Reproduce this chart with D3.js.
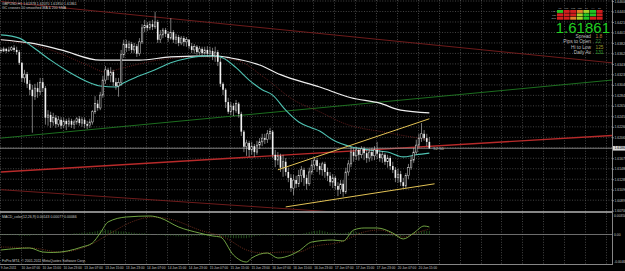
<!DOCTYPE html>
<html>
<head>
<meta charset="utf-8">
<script src="https://cdn.jsdelivr.net/npm/d3@7"></script>
<style>
  html, body { margin: 0; padding: 0; background: #000; }
  svg { display: block; }
  text { font-family: "Liberation Sans", Arial, sans-serif; }
</style>
</head>
<body>
<div id="chart"></div>
<script>
// GBPUSD H1, 9 Jun 23:00 .. 20 Jun 19:00 -- [open, high, low, close]
const bars = [
  [1.6369,1.6373,1.6363,1.6367],[1.6367,1.6375,1.6365,1.6371],[1.6371,1.6373,1.6363,1.6367],[1.6367,1.6375,1.6365,1.6369],
  [1.6369,1.6376,1.6367,1.6373],[1.6373,1.6378,1.6365,1.6369],[1.6369,1.6375,1.6360,1.6365],[1.6365,1.6369,1.6341,1.6345],
  [1.6345,1.6347,1.6309,1.6317],[1.6317,1.6332,1.6308,1.6324],[1.6324,1.6328,1.6298,1.6306],[1.6306,1.6313,1.6285,1.6295],
  [1.6295,1.6304,1.6215,1.6283],[1.6283,1.6306,1.6276,1.6298],[1.6298,1.6309,1.6280,1.6291],[1.6291,1.6317,1.6285,1.6309],
  [1.6309,1.6317,1.6291,1.6298],[1.6298,1.6302,1.6230,1.6243],[1.6243,1.6257,1.6228,1.6248],[1.6248,1.6254,1.6224,1.6235],
  [1.6235,1.6252,1.6228,1.6243],[1.6243,1.6248,1.6224,1.6231],[1.6231,1.6246,1.6226,1.6239],[1.6239,1.6244,1.6222,1.6228],
  [1.6228,1.6243,1.6224,1.6237],[1.6237,1.6241,1.6220,1.6231],[1.6231,1.6243,1.6226,1.6237],[1.6237,1.6241,1.6224,1.6230],
  [1.6230,1.6239,1.6222,1.6235],[1.6235,1.6244,1.6230,1.6241],[1.6241,1.6246,1.6228,1.6233],[1.6233,1.6244,1.6226,1.6239],
  [1.6239,1.6243,1.6224,1.6231],[1.6231,1.6237,1.6222,1.6228],[1.6228,1.6241,1.6224,1.6235],[1.6235,1.6257,1.6230,1.6254],
  [1.6254,1.6283,1.6250,1.6269],[1.6269,1.6276,1.6256,1.6261],[1.6261,1.6291,1.6257,1.6285],[1.6285,1.6321,1.6280,1.6313],
  [1.6313,1.6339,1.6306,1.6332],[1.6332,1.6336,1.6313,1.6321],[1.6321,1.6337,1.6309,1.6328],[1.6328,1.6332,1.6302,1.6309],
  [1.6309,1.6317,1.6295,1.6302],[1.6302,1.6317,1.6282,1.6308],[1.6308,1.6369,1.6302,1.6360],[1.6360,1.6388,1.6354,1.6380],
  [1.6380,1.6388,1.6365,1.6373],[1.6373,1.6386,1.6367,1.6380],[1.6380,1.6384,1.6363,1.6369],[1.6369,1.6382,1.6363,1.6376],
  [1.6376,1.6380,1.6356,1.6362],[1.6362,1.6391,1.6358,1.6384],[1.6384,1.6417,1.6380,1.6410],[1.6410,1.6425,1.6402,1.6415],
  [1.6415,1.6421,1.6404,1.6410],[1.6410,1.6423,1.6406,1.6417],[1.6417,1.6425,1.6406,1.6412],[1.6412,1.6440,1.6408,1.6421],
  [1.6421,1.6425,1.6382,1.6388],[1.6388,1.6406,1.6382,1.6397],[1.6397,1.6410,1.6391,1.6406],[1.6406,1.6410,1.6393,1.6399],
  [1.6399,1.6404,1.6384,1.6391],[1.6391,1.6428,1.6388,1.6402],[1.6402,1.6406,1.6382,1.6388],[1.6388,1.6399,1.6380,1.6393],
  [1.6393,1.6397,1.6376,1.6382],[1.6382,1.6395,1.6378,1.6391],[1.6391,1.6395,1.6376,1.6384],[1.6384,1.6393,1.6375,1.6388],
  [1.6388,1.6389,1.6371,1.6376],[1.6376,1.6382,1.6363,1.6369],[1.6369,1.6380,1.6362,1.6375],[1.6375,1.6378,1.6360,1.6365],
  [1.6365,1.6376,1.6360,1.6371],[1.6371,1.6375,1.6358,1.6363],[1.6363,1.6375,1.6360,1.6369],[1.6369,1.6376,1.6356,1.6362],
  [1.6362,1.6375,1.6358,1.6367],[1.6367,1.6373,1.6350,1.6358],[1.6358,1.6375,1.6347,1.6365],[1.6365,1.6369,1.6339,1.6347],
  [1.6347,1.6354,1.6300,1.6306],[1.6306,1.6309,1.6285,1.6295],[1.6295,1.6298,1.6261,1.6272],[1.6272,1.6280,1.6250,1.6254],
  [1.6254,1.6272,1.6248,1.6265],[1.6265,1.6270,1.6246,1.6257],[1.6257,1.6276,1.6252,1.6269],[1.6269,1.6272,1.6243,1.6250],
  [1.6250,1.6254,1.6209,1.6217],[1.6217,1.6220,1.6179,1.6189],[1.6189,1.6202,1.6172,1.6196],[1.6196,1.6200,1.6170,1.6183],
  [1.6183,1.6198,1.6174,1.6190],[1.6190,1.6194,1.6170,1.6179],[1.6179,1.6200,1.6174,1.6192],[1.6192,1.6205,1.6185,1.6198],
  [1.6198,1.6213,1.6190,1.6205],[1.6205,1.6213,1.6194,1.6202],[1.6202,1.6220,1.6196,1.6213],[1.6213,1.6224,1.6202,1.6217],
  [1.6217,1.6220,1.6168,1.6174],[1.6174,1.6183,1.6151,1.6164],[1.6164,1.6179,1.6155,1.6172],[1.6172,1.6176,1.6142,1.6150],
  [1.6150,1.6174,1.6133,1.6161],[1.6161,1.6168,1.6135,1.6142],[1.6142,1.6150,1.6123,1.6131],[1.6131,1.6138,1.6105,1.6112],
  [1.6112,1.6137,1.6099,1.6127],[1.6127,1.6135,1.6112,1.6120],[1.6120,1.6146,1.6114,1.6135],[1.6135,1.6153,1.6123,1.6146],
  [1.6146,1.6150,1.6116,1.6131],[1.6131,1.6137,1.6109,1.6120],[1.6120,1.6150,1.6116,1.6142],[1.6142,1.6164,1.6137,1.6155],
  [1.6155,1.6170,1.6146,1.6164],[1.6164,1.6168,1.6142,1.6153],[1.6153,1.6159,1.6137,1.6146],[1.6146,1.6161,1.6135,1.6157],
  [1.6157,1.6161,1.6131,1.6142],[1.6142,1.6150,1.6125,1.6135],[1.6135,1.6142,1.6116,1.6123],[1.6123,1.6138,1.6112,1.6131],
  [1.6131,1.6135,1.6109,1.6116],[1.6116,1.6123,1.6097,1.6109],[1.6109,1.6127,1.6101,1.6120],[1.6120,1.6127,1.6096,1.6105],
  [1.6105,1.6150,1.6101,1.6142],[1.6142,1.6164,1.6135,1.6157],[1.6157,1.6189,1.6151,1.6179],[1.6179,1.6187,1.6161,1.6172],
  [1.6172,1.6189,1.6164,1.6183],[1.6183,1.6187,1.6163,1.6174],[1.6174,1.6190,1.6168,1.6185],[1.6185,1.6189,1.6164,1.6177],
  [1.6177,1.6183,1.6159,1.6168],[1.6168,1.6185,1.6161,1.6179],[1.6179,1.6187,1.6163,1.6172],[1.6172,1.6190,1.6164,1.6183],
  [1.6183,1.6198,1.6166,1.6176],[1.6176,1.6183,1.6161,1.6168],[1.6168,1.6181,1.6159,1.6174],[1.6174,1.6177,1.6155,1.6161],
  [1.6161,1.6174,1.6150,1.6168],[1.6168,1.6172,1.6146,1.6153],[1.6153,1.6161,1.6140,1.6146],[1.6146,1.6151,1.6123,1.6131],
  [1.6131,1.6148,1.6122,1.6138],[1.6138,1.6144,1.6116,1.6123],[1.6123,1.6131,1.6112,1.6116],[1.6116,1.6140,1.6112,1.6135],
  [1.6135,1.6157,1.6129,1.6150],[1.6150,1.6172,1.6146,1.6164],[1.6164,1.6187,1.6159,1.6179],[1.6179,1.6202,1.6174,1.6192],
  [1.6192,1.6213,1.6187,1.6205],[1.6205,1.6233,1.6198,1.6213],[1.6213,1.6220,1.6200,1.6205],[1.6205,1.6213,1.6190,1.6198],
  [1.6198,1.6207,1.6185,1.61861]
];

// one label every 8 bars
const timeLabels = ["9 Jun 2011","10 Jun 07:00","10 Jun 15:00","10 Jun 23:00","13 Jun 07:00","13 Jun 15:00",
  "13 Jun 23:00","14 Jun 07:00","14 Jun 15:00","14 Jun 23:00","15 Jun 07:00","15 Jun 15:00","15 Jun 23:00",
  "16 Jun 07:00","16 Jun 15:00","16 Jun 23:00","17 Jun 07:00","17 Jun 15:00","17 Jun 23:00","20 Jun 07:00","20 Jun 15:00"];

const priceTicks = [1.64600,1.64405,1.64210,1.64015,1.63820,1.63625,1.63430,1.63235,1.63040,1.62845,1.62650,
  1.62455,1.62260,1.62065,1.61870,1.61675,1.61480,1.61285,1.61090,1.60895,1.60700];

// moving averages, read as [bar, price]
const maWhite = [[0,1.6388],[11,1.6382],[23,1.6369],[38,1.6350],[53,1.6350],[65,1.6356],[82,1.6358],[88,1.6354],
  [99,1.6341],[107,1.6323],[122,1.6300],[134,1.6280],[145,1.6270],[153,1.6257],[164,1.6252]];
const maCyan = [[0,1.6397],[7,1.6391],[12,1.6375],[19,1.6350],[26,1.6328],[34,1.6308],[38,1.6302],[44,1.6300],
  [47,1.6308],[52,1.6319],[59,1.6332],[65,1.6345],[72,1.6354],[78,1.6358],[82,1.6358],[85,1.6354],[90,1.6336],
  [95,1.6313],[100,1.6295],[104,1.6285],[109,1.6257],[114,1.6235],[119,1.6224],[122,1.6218],[127,1.6202],
  [134,1.6189],[141,1.6183],[148,1.6179],[154,1.6170],[159,1.6174],[164,1.6177]];
const maDotted = [[0,1.6388],[19,1.6369],[33,1.6341],[40,1.6328],[47,1.6336],[60,1.6350],[76,1.6356],[90,1.6350],
  [101,1.6317],[112,1.6276],[122,1.6254],[131,1.6233],[148,1.6215],[164,1.6202]];

// trend lines, [bar, price] end points
const trendTopRed = [[0,1.6459],[234,1.6345]];
const trendMidRed = [[0,1.6142],[234,1.6210]];
const trendLowRed = [[0,1.6109],[234,1.6033]];
const trendGreen = [[0,1.6205],[234,1.6313]];
const channelUpper = [[106,1.6146],[164,1.6241]];
const channelLower = [[109,1.6077],[166,1.6120]];

// MACD pane, [bar, value]
const macdMain = [[0,-0.00252],[11,-0.00220],[16,-0.00285],[20,-0.00293],[31,-0.00204],[35,-0.00138],[38,0.00024],
  [41,0.00204],[48,0.00285],[57,0.00301],[61,0.00269],[68,0.00122],[76,0.00024],[81,-0.00024],[84,-0.00041],
  [89,-0.00334],[94,-0.00448],[96,-0.00383],[102,-0.00301],[106,-0.00383],[111,-0.00334],[114,-0.00269],
  [119,-0.00122],[127,-0.00090],[131,-0.00106],[135,0.00073],[139,0.00106],[144,0.00106],[150,0.00024],
  [154,-0.00073],[158,0.00024],[162,0.00138],[164,0.00122]];
const macdSignal = [[0,-0.00204],[12,-0.00220],[23,-0.00285],[34,-0.00171],[42,0.00024],[50,0.00204],[58,0.00285],
  [66,0.00236],[76,0.00073],[86,-0.00057],[94,-0.00252],[100,-0.00301],[109,-0.00285],[114,-0.00285],
  [119,-0.00204],[130,-0.00122],[139,0.00041],[145,0.00073],[154,-0.00041],[160,0.00041],[164,0.00090]];
// histogram per bar, in 0.0001
const macdHist = [
  -1,-1,-1,-1,-1,-1,-1,-2,-2,-2, -2,-2,-1,-1,-1,-1,-1,-1,0,0,
  0,0,0,0,0,1,1,1,2,2, 2,3,3,3,4,4,5,6,7,7,
  8,7,7,6,6,5,5,5,4,4, 3,3,2,2,2,2,1,1,0,0,
  -1,-1,-1,-2,-2,-2,-2,-3,-3,-3, -3,-3,-3,-3,-2,-2,-2,-2,-2,-2,
  -1,-1,-1,-1,-2,-3,-4,-5,-5,-6, -6,-6,-6,-6,-6,-5,-4,-3,-2,-2,
  -1,-1,0,0,-1,-1,-2,-2,-2,-2, -2,-2,-2,-1,0,1,2,3,4,5,
  6,6,7,6,5,4,3,3,3,2, 2,2,3,4,5,5,4,3,2,1,
  1,0,0,-1,-1,-1,-2,-2,-2,-2, -3,-3,-3,-3,-2,-1,0,1,2,3,
  4,5,6,6,6];

// dashboard in the corner
const tfNames = ["M1","M5","M15","M30","H1","H4","D1"];
const rowNames = ["MA","RSI","STO"];
const signalCells = [
  ["g","r","r","o","y","g","r"],
  ["r","r","r","y","g","g","r"],
  ["r","r","o","y","g","r","r"]];
const infoRows = [["Spread","1.8"],["Pips to Open","22"],["Hi to Low","125"],["Daily Av","131"]];

const W = 625, H = 271;
const plotRight = 612;
const mainBottom = 211, macdTop = 213, macdBottom = 264;

const svg = d3.select("#chart").append("svg").attr("width", W).attr("height", H);
svg.append("rect").attr("width", W).attr("height", H).attr("fill", "#000");

const defs = svg.append("defs");
defs.append("clipPath").attr("id", "clipMain").append("rect")
  .attr("x", 0).attr("y", 0).attr("width", plotRight).attr("height", mainBottom);
defs.append("clipPath").attr("id", "clipMacd").append("rect")
  .attr("x", 0).attr("y", macdTop).attr("width", plotRight).attr("height", macdBottom - macdTop);

const x = d3.scaleLinear().domain([0, 234]).range([1, 612.2]);
const y = d3.scaleLinear().domain([1.60694, 1.64619]).range([mainBottom, 0]);
const ym = d3.scaleLinear().domain([-0.00464, 0.0035]).range([263, macdTop]);

// grid
const grid = svg.append("g").attr("stroke", "#606060").attr("stroke-width", 0.7).attr("stroke-dasharray", "1,1.6");
grid.selectAll("line.v").data(d3.range(0, 234, 8)).join("line")
  .attr("x1", d => Math.round(x(d)) - 0.5).attr("x2", d => Math.round(x(d)) - 0.5)
  .attr("y1", 0).attr("y2", macdBottom);
grid.selectAll("line.h").data(priceTicks.slice(0, 20)).join("line")
  .attr("x1", 0).attr("x2", plotRight)
  .attr("y1", d => y(d)).attr("y2", d => y(d));

const main = svg.append("g").attr("clip-path", "url(#clipMain)");

const straight = d3.line().x(d => x(d[0])).y(d => y(d[1]));
const smooth = d3.line().x(d => x(d[0])).y(d => y(d[1])).curve(d3.curveMonotoneX);

function drawLine(g, data, gen, color, width, dash) {
  g.append("path").datum(data).attr("d", gen).attr("fill", "none")
    .attr("stroke", color).attr("stroke-width", width).attr("stroke-dasharray", dash || null);
}

drawLine(main, trendTopRed, straight, "#7a1e1e", 0.9);
drawLine(main, trendLowRed, straight, "#7a1e1e", 0.9);
drawLine(main, trendGreen, straight, "#1f7a22", 0.9);
drawLine(main, trendMidRed, straight, "#b82a2a", 1.4);

// bid line
const last = bars[bars.length - 1][3];
main.append("line").attr("x1", 0).attr("x2", plotRight).attr("y1", y(last)).attr("y2", y(last))
  .attr("stroke", "#9a9a9a").attr("stroke-width", 0.8);

drawLine(main, maDotted, smooth, "#7c2424", 0.8, "1,1.2");
drawLine(main, maWhite, smooth, "#eeeeee", 1.2);
drawLine(main, maCyan, smooth, "#4fc2b2", 1.1);

// candles
const candles = main.append("g").selectAll("g").data(bars).join("g");
candles.append("line")
  .attr("x1", (d, i) => x(i)).attr("x2", (d, i) => x(i))
  .attr("y1", d => y(d[1])).attr("y2", d => y(d[2]))
  .attr("stroke", "#c8c8c8").attr("stroke-width", 0.6);
candles.append("rect")
  .attr("x", (d, i) => x(i) - 0.8).attr("width", 1.6)
  .attr("y", d => y(Math.max(d[0], d[3])))
  .attr("height", d => Math.max(0.6, Math.abs(y(d[0]) - y(d[3]))))
  .attr("fill", d => d[3] >= d[0] ? "#000" : "#f2f2f2")
  .attr("stroke", d => d[3] >= d[0] ? "#e0e0e0" : "none")
  .attr("stroke-width", 0.5);

drawLine(main, channelUpper, straight, "#e2c255", 1);
drawLine(main, channelLower, straight, "#e2c255", 1);

main.append("text").attr("x", x(bars.length - 1) + 4).attr("y", y(last) + 1.5)
  .attr("fill", "#bdbdbd").attr("font-size", 4.2).text("52:50");

// MACD pane
const macd = svg.append("g").attr("clip-path", "url(#clipMacd)");
macd.append("line").attr("x1", 0).attr("x2", plotRight).attr("y1", ym(0)).attr("y2", ym(0))
  .attr("stroke", "#8a8a8a").attr("stroke-width", 0.8);
macd.selectAll("line.hist").data(macdHist).join("line")
  .attr("x1", (d, i) => x(i)).attr("x2", (d, i) => x(i))
  .attr("y1", ym(0)).attr("y2", d => ym(d * 0.0001))
  .attr("stroke", "#2f6a25").attr("stroke-width", 0.7);
const mline = d3.line().x(d => x(d[0])).y(d => ym(d[1])).curve(d3.curveMonotoneX);
drawLine(macd, macdSignal, mline, "#8a3a26", 0.8, "1,1.2");
drawLine(macd, macdMain, mline, "#7db44a", 0.9);

// frame
svg.append("line").attr("x1", 0).attr("x2", plotRight).attr("y1", 212).attr("y2", 212)
  .attr("stroke", "#b4b4b4").attr("stroke-width", 1.6);
svg.append("line").attr("x1", 0).attr("x2", plotRight).attr("y1", macdBottom + 0.5).attr("y2", macdBottom + 0.5)
  .attr("stroke", "#a8a8a8").attr("stroke-width", 0.8);
svg.append("line").attr("x1", plotRight + 0.5).attr("x2", plotRight + 0.5).attr("y1", 0).attr("y2", macdBottom + 1)
  .attr("stroke", "#a8a8a8").attr("stroke-width", 0.8);

// price axis
const yAxis = svg.append("g").attr("transform", `translate(${plotRight + 0.5},0)`)
  .call(d3.axisRight(y).tickValues(priceTicks).tickFormat(d3.format(".5f")).tickSize(1.2).tickPadding(0.8));
yAxis.select(".domain").remove();
yAxis.selectAll("line").attr("stroke", "#a8a8a8");
yAxis.selectAll("text").attr("fill", "#c4c4c4").attr("font-size", 3.4).attr("font-family", "Liberation Sans");

const bidTag = svg.append("g").attr("transform", `translate(${plotRight + 1},${y(last)})`);
bidTag.append("rect").attr("x", 0).attr("y", -2.3).attr("width", 13).attr("height", 4.6).attr("fill", "#d8d8d8");
bidTag.append("text").attr("x", 1.5).attr("y", 1.2).attr("font-size", 3.4).attr("fill", "#000").text(d3.format(".5f")(last));

const macdTicks = [[0.0035, "0.003500"], [0, "0.00"], [-0.00464, "-0.004640"]];
svg.append("g").selectAll("text").data(macdTicks).join("text")
  .attr("x", plotRight + 2).attr("y", d => Math.min(262.5, Math.max(216.5, ym(d[0]) + 1.2)))
  .attr("font-size", 3.4).attr("fill", "#c4c4c4").text(d => d[1]);

// time axis
svg.append("g").selectAll("text").data(timeLabels).join("text")
  .attr("x", (d, i) => x(i * 8) - 0.3).attr("y", 269)
  .attr("font-size", 3.2).attr("fill", "#c4c4c4").text(d => d);

// captions
const cap = svg.append("g").attr("fill", "#c8c8c8").attr("font-size", 3.5);
cap.append("text").attr("x", 2).attr("y", 4.5).text("GBPUSD,H1  1.61978 1.62070 1.61850 1.61861");
cap.append("text").attr("x", 2).attr("y", 8.8).text("GC crosses 50 smoothed MA & 200 SMA");
cap.append("text").attr("x", 2).attr("y", 217.5).text("MACD_color(12,26,9) 0.00143 0.00077 0.00066");
cap.append("text").attr("x", 2).attr("y", 262).text("FxPro MT4, \u00a9 2001-2011 MetaQuotes Software Corp.");

// dashboard
const cellColor = { r: "#d21e1e", g: "#22c422", o: "#e0802a", y: "#a8d02a" };
const dash = svg.append("g");
dash.selectAll("text.tf").data(tfNames).join("text")
  .attr("x", (d, i) => 560 + i * 6.6).attr("y", 8.6).attr("text-anchor", "middle")
  .attr("font-size", 2.2).attr("fill", "#bdbdbd").text(d => d);
dash.selectAll("text.row").data(rowNames).join("text")
  .attr("x", 556).attr("y", (d, i) => 12.4 + i * 3.4).attr("text-anchor", "end")
  .attr("font-size", 2.2).attr("fill", "#bdbdbd").text(d => d);
signalCells.forEach((row, r) => {
  dash.selectAll(null).data(row).join("rect")
    .attr("x", (d, i) => 557 + i * 6.6).attr("y", 10 + r * 3.4)
    .attr("width", 6).attr("height", 2.9).attr("fill", d => cellColor[d]);
});
dash.append("text").attr("x", 610).attr("y", 33).attr("text-anchor", "end")
  .attr("font-size", 15).attr("fill", "#22d022").text(d3.format(".5f")(last));
const valColors = ["#c07a3a", "#3e8e3e", "#98982c", "#34a634"];
dash.selectAll("text.lbl").data(infoRows).join("text")
  .attr("x", 591).attr("y", (d, i) => 38.2 + i * 5.2).attr("text-anchor", "end")
  .attr("font-size", 4.8).attr("fill", "#bdbdbd").text(d => d[0]);
dash.selectAll("text.val").data(infoRows).join("text")
  .attr("x", 595.5).attr("y", (d, i) => 38.2 + i * 5.2)
  .attr("font-size", 4.8).attr("fill", (d, i) => valColors[i]).text(d => d[1]);
</script>
</body>
</html>
